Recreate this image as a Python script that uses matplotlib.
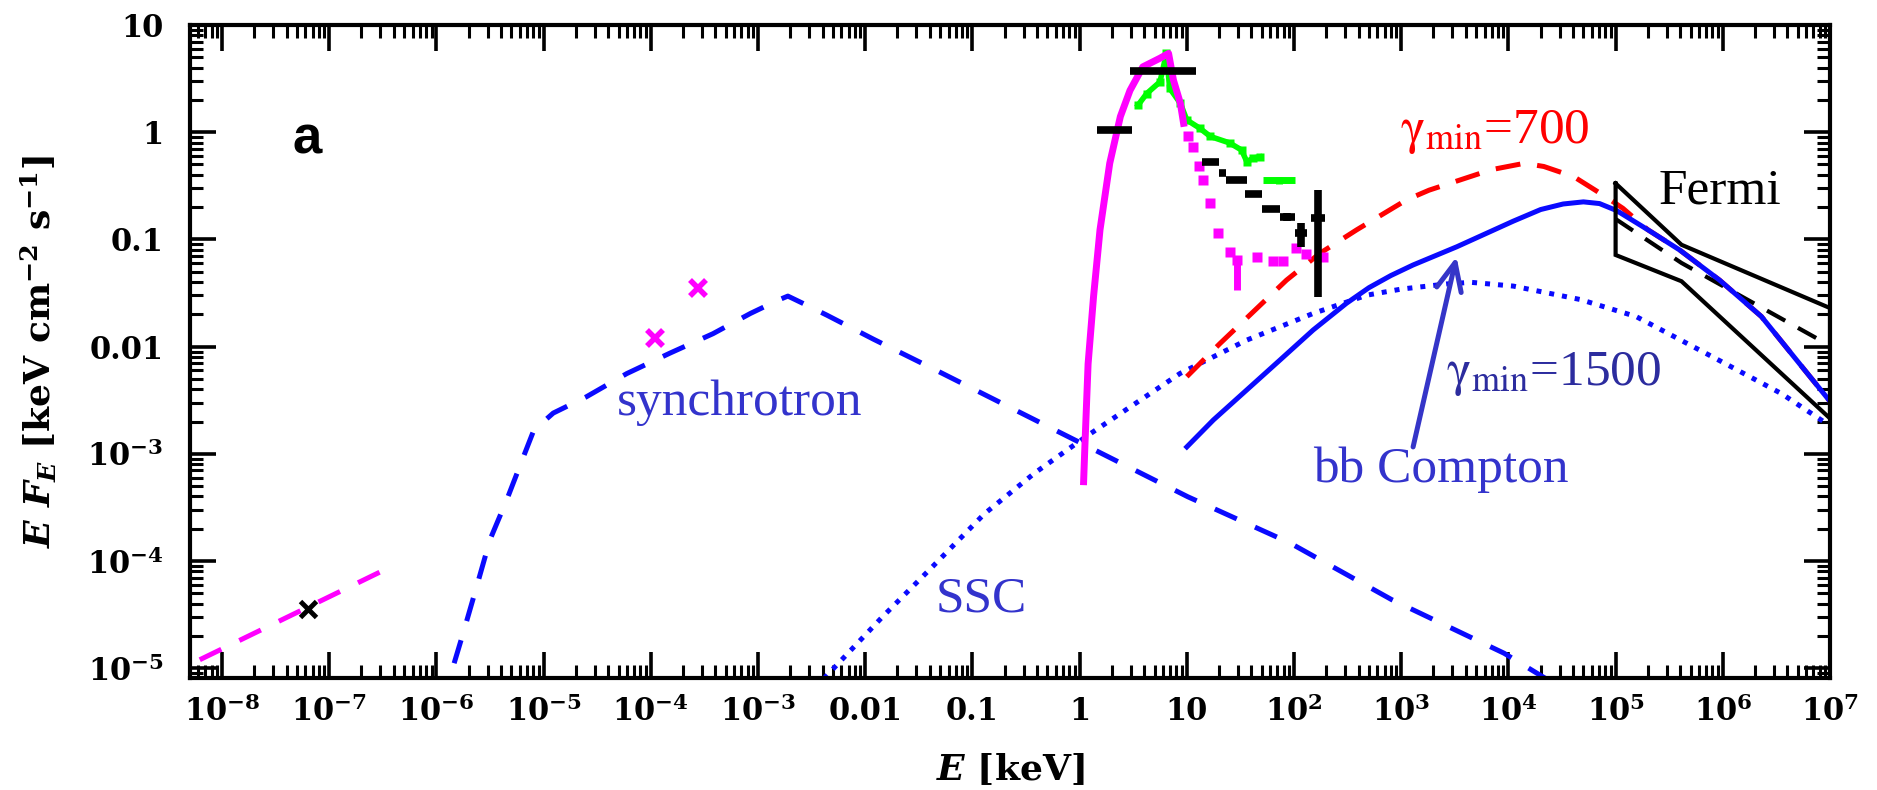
import numpy as np
import matplotlib
matplotlib.use("Agg")
import matplotlib.pyplot as plt
from matplotlib.ticker import LogLocator, NullFormatter
from matplotlib.font_manager import FontProperties

# ---------------- data (E in keV, EF_E in keV cm^-2 s^-1) ----------------
# synchrotron model (blue dashed)
sync_E = [1.12e-6, 1.34e-6, 1.78e-6, 2.37e-6, 3.16e-6, 4.53e-6, 6.46e-6, 8.1e-6,
          1.23e-5, 2.5e-5, 5.96e-5, 1.51e-4, 3.8e-4, 8.5e-4, 1.55e-3, 1.9e-3,
          2.63e-3, 4.37e-3, 1.2e-2, 4.27e-2, 1.03, 10.2, 91.0, 813.0, 9120.0,
          2.19e4, 4.0e4]
sync_F = [4.5e-6, 8.3e-6, 2.14e-5, 5.75e-5, 1.58e-4, 3.72e-4, 9.3e-4, 1.66e-3,
          2.4e-3, 3.4e-3, 5.6e-3, 8.7e-3, 1.32e-2, 2.04e-2, 2.72e-2, 2.96e-2,
          2.53e-2, 1.97e-2, 1.17e-2, 6.24e-3, 1.26e-3, 3.98e-4, 1.48e-4, 4.37e-5,
          1.38e-5, 8.1e-6, 5.0e-6]

# SSC model (blue dotted)
ssc_E = [3.55e-3, 4.27e-3, 1.45e-2, 4.27e-2, 0.129, 0.380, 1.15, 8.65, 36.2,
         151.0, 479.0, 1000.0, 2630.0, 4467.0, 1.11e4, 4.68e4, 1.55e5, 9.33e5,
         3.55e6, 9.33e6, 1.12e7]
ssc_F = [6.31e-6, 8.32e-6, 3.02e-5, 8.91e-5, 2.75e-4, 6.61e-4, 1.45e-3, 5.62e-3,
         1.15e-2, 2.04e-2, 3.02e-2, 3.44e-2, 3.84e-2, 3.98e-2, 3.67e-2, 2.75e-2,
         1.91e-2, 7.41e-3, 3.63e-3, 1.91e-3, 1.66e-3]

# bb Compton, gamma_min = 1500 (blue solid)
bb1500_E = [10.0, 17.7, 36.2, 74.0, 151.0, 309.0, 501.0, 800.0, 1288.0, 3311.0,
            1.11e4, 2.0e4, 3.24e4, 5.01e4, 7.08e4, 1.02e5, 2.0e5, 3.98e5, 9.33e5,
            2.29e6, 5.5e6, 1.0e7]
bb1500_F = [1.16e-3, 2.07e-3, 3.94e-3, 7.50e-3, 1.43e-2, 2.54e-2, 3.55e-2, 4.6e-2,
            5.77e-2, 8.55e-2, 0.148, 0.190, 0.214, 0.224, 0.216, 0.186, 0.123,
            7.94e-2, 4.17e-2, 1.91e-2, 6.46e-3, 3.09e-3]

# bb Compton, gamma_min = 700 (red dashed)
bb700_E = [10.0, 20.4, 85.1, 174.0, 385.0, 1122.0, 1820.0, 6918.0, 1.41e4, 2.14e4,
           4.07e4, 6.46e4, 8.91e4, 1.17e5, 2.0e5, 3.98e5, 9.33e5, 2.29e6, 5.5e6, 1.0e7]
bb700_F = [5.25e-3, 1.07e-2, 4.17e-2, 7.41e-2, 0.123, 0.234, 0.288, 0.447, 0.513,
           0.479, 0.385, 0.288, 0.234, 0.195, 0.123, 7.94e-2, 4.17e-2, 1.91e-2,
           6.46e-3, 3.09e-3]

# Fermi bow-tie
fermi_E = [1.0e5, 4.12e5, 1.0e7]
fermi_up = [0.333, 0.0891, 0.0229]
fermi_lo = [0.0716, 0.0407, 0.00214]
fermi_mid = [0.155, 0.0603, 0.0102]

# optical/UV/radio points
radio_line_E = [6.2e-9, 3.3e-7]
radio_line_F = [1.2e-5, 8.3e-5]
radio_pt_E = [6.4e-8]
radio_pt_F = [3.6e-5]
uv_pt_E = [1.1e-4, 2.75e-4]
uv_pt_F = [0.012, 0.035]

# magenta X-ray spectrum (dense part, then binned points)
mag_curve_E = [1.09, 1.12, 1.20, 1.35, 1.55, 1.91, 2.40, 2.95, 3.89, 5.62, 6.76,
               7.50, 8.71, 9.33]
mag_curve_F = [5.5e-4, 1.17e-3, 6.9e-3, 2.95e-2, 0.123, 0.513, 1.40, 2.45, 4.07,
               4.90, 5.43, 3.07, 1.86, 1.21]
mag_pt_E = [10.2, 11.5, 12.9, 14.3, 16.6, 19.5, 25.1, 29.2, 44.7, 63.1, 79.4,
            105.0, 129.0, 186.0]
mag_pt_F = [0.912, 0.733, 0.479, 0.359, 0.219, 0.115, 0.0767, 0.0646, 0.0692,
            0.0631, 0.0631, 0.0832, 0.0724, 0.0692]
mag_pt_Flo = [0.912, 0.733, 0.479, 0.359, 0.219, 0.115, 0.0767, 0.034, 0.0692,
              0.0631, 0.0631, 0.0832, 0.0724, 0.0692]

# green X-ray spectrum
grn_E = [3.51, 4.22, 5.62, 6.46, 6.92, 8.71, 10.0, 13.2, 16.6, 25.1, 32.4, 36.3,
         41.7, 47.9]
grn_F = [1.79, 2.29, 2.95, 5.43, 2.57, 1.86, 1.30, 1.09, 0.912, 0.794, 0.682,
         0.531, 0.575, 0.589]
grn_x_lo = [51.3]
grn_x_hi = [102.0]
grn_x_F = [0.355]
grn_x_Flo = [0.33]
grn_x_Fhi = [0.38]

# black binned points (energy bins, flux, flux errors)
blk_lo = [1.445, 2.95, 13.8, 20.0, 23.4, 34.7, 50.1, 74.1, 102.0, 145.0]
blk_hi = [3.05, 12.3, 20.0, 23.4, 36.3, 50.1, 74.1, 102.0, 132.0, 195.0]
blk_F = [1.047, 3.75, 0.531, 0.414, 0.355, 0.263, 0.192, 0.162, 0.115, 0.158]
blk_Flo = [1.047, 3.75, 0.531, 0.414, 0.355, 0.263, 0.192, 0.148, 0.085, 0.029]
blk_Fhi = [1.047, 3.75, 0.531, 0.414, 0.355, 0.263, 0.192, 0.178, 0.141, 0.288]

# axis ticks
xticks = [1e-8, 1e-7, 1e-6, 1e-5, 1e-4, 1e-3, 1e-2, 1e-1, 1, 10, 1e2, 1e3, 1e4, 1e5, 1e6, 1e7]
xticklabels = [r'$10^{-8}$', r'$10^{-7}$', r'$10^{-6}$', r'$10^{-5}$', r'$10^{-4}$',
               r'$10^{-3}$', '0.01', '0.1', '1', '10', r'$10^{2}$', r'$10^{3}$',
               r'$10^{4}$', r'$10^{5}$', r'$10^{6}$', r'$10^{7}$']
yticks = [1e-5, 1e-4, 1e-3, 1e-2, 1e-1, 1, 10]
yticklabels = [r'$10^{-5}$', r'$10^{-4}$', r'$10^{-3}$', '0.01', '0.1', '1', '10']

# annotation arrow (tail / head)
arrow_tail = (1291.0, 1.16e-3)
arrow_head = (3281.0, 0.069)

# ---------------- style ----------------
plt.rcParams['font.family'] = ['DejaVu Serif']
plt.rcParams['mathtext.fontset'] = 'custom'
plt.rcParams['mathtext.rm'] = 'DejaVu Serif:bold'
plt.rcParams['mathtext.bf'] = 'DejaVu Serif:bold'
plt.rcParams['mathtext.it'] = 'DejaVu Serif:italic:bold'
plt.rcParams['axes.linewidth'] = 3.0

BLUE = '#0a0aff'
TXTBLUE = '#3333cc'
TXTBLUE2 = '#2c2c9e'

fig = plt.figure(figsize=(18.77, 7.9), dpi=100)
ax = fig.add_axes([0.10123, 0.14177, 0.87373, 0.82658])
ax.set_xscale('log')
ax.set_yscale('log')
ax.set_xlim(10 ** -8.2985, 1e7)
ax.set_ylim(10 ** -5.091, 10)

# models
ax.plot(ssc_E, ssc_F, color=BLUE, lw=3.6, linestyle=(0, (1.0, 1.6)),
        dash_capstyle='butt', zorder=2)
ax.plot(sync_E, sync_F, color=BLUE, lw=3.6, linestyle=(0, (4.8, 4.0)),
        dash_capstyle='butt', zorder=2)
ax.plot(bb700_E, bb700_F, color='#ff0000', lw=3.6, linestyle=(0, (5.0, 3.4)),
        dash_capstyle='butt', zorder=2)
ax.plot(bb1500_E, bb1500_F, color=BLUE, lw=3.6, zorder=3)

# Fermi bow tie
fx = fermi_E + fermi_E[::-1] + [fermi_E[0]]
fy = fermi_up + fermi_lo[::-1] + [fermi_up[0]]
ax.plot(fx, fy, color='k', lw=3.0, zorder=4, solid_joinstyle='miter')
ax.plot(fermi_E, fermi_mid, color='k', lw=3.0, linestyle=(0, (5, 3.5)), zorder=2.5)

# radio / optical / UV
ax.plot(radio_line_E, radio_line_F, color='#ff00ff', lw=3.6,
        linestyle=(0, (4.8, 4.0)), dash_capstyle='butt', zorder=2)
ax.plot(radio_pt_E, radio_pt_F, 'x', color='k', ms=11, mew=3.5, zorder=5)
ax.plot(uv_pt_E, uv_pt_F, 'x', color='#ff00ff', ms=12, mew=4, zorder=5)

# green spectrum
ax.plot(grn_E, grn_F, color='#00ff00', lw=4, marker='s', ms=6, mec='none', zorder=4)
gx = np.sqrt(np.array(grn_x_lo) * np.array(grn_x_hi))
ax.errorbar(gx, grn_x_F,
            xerr=[gx - np.array(grn_x_lo), np.array(grn_x_hi) - gx],
            yerr=[np.array(grn_x_F) - np.array(grn_x_Flo), np.array(grn_x_Fhi) - np.array(grn_x_F)],
            fmt='none', ecolor='#00ff00', elinewidth=5, capsize=0, zorder=4)

# magenta spectrum
ax.plot(mag_curve_E, mag_curve_F, color='#ff00ff', lw=5, zorder=5)
mF = np.array(mag_pt_F)
ax.errorbar(mag_pt_E, mag_pt_F, yerr=[mF - np.array(mag_pt_Flo), mF * 0],
            fmt='s', color='#ff00ff', ms=6.5, mec='none', ecolor='#ff00ff',
            elinewidth=5, capsize=0, zorder=5)

# black binned points
blo = np.array(blk_lo)
bhi = np.array(blk_hi)
bF = np.array(blk_F)
bx = np.sqrt(blo * bhi)
ax.errorbar(bx, bF, xerr=[bx - blo, bhi - bx],
            yerr=[bF - np.array(blk_Flo), np.array(blk_Fhi) - bF],
            fmt='none', ecolor='k', elinewidth=5.5, capsize=0, zorder=6)

# ticks
ax.set_xticks(xticks, xticklabels, fontweight='bold')
ax.set_yticks(yticks, yticklabels, fontweight='bold')
ax.xaxis.set_minor_locator(LogLocator(base=10, subs=np.arange(2, 10), numticks=40))
ax.yaxis.set_minor_locator(LogLocator(base=10, subs=np.arange(2, 10), numticks=40))
ax.xaxis.set_minor_formatter(NullFormatter())
ax.yaxis.set_minor_formatter(NullFormatter())
ax.tick_params(which='both', direction='in', top=True, right=True)
ax.tick_params(which='major', length=19, width=2.6, labelsize=22)
ax.tick_params(which='minor', length=9.5, width=2.2)
ax.tick_params(axis='x', which='major', pad=13)
ax.tick_params(axis='y', which='major', pad=19)
for lbl in ax.get_xticklabels() + ax.get_yticklabels():
    lbl.set_fontweight('bold')

ax.set_xlabel(r'$E$ [keV]', fontsize=26, fontweight='bold')
ax.xaxis.set_label_coords(0.5, -0.112)
ax.set_ylabel(r'$E\ F_E$ [keV cm$^{-2}$ s$^{-1}$]', fontsize=26, fontweight='bold')
ax.yaxis.set_label_coords(-0.08, 0.5)

# annotations
def serif_fp(size):
    return FontProperties(family='Liberation Serif', weight='normal', size=size,
                          math_fontfamily='stix')

ax.text(0.0713, 0.824, 'a', transform=ax.transAxes, fontsize=38,
        family='Liberation Sans', fontweight='bold', ha='center', va='center')
ax.text(0.260, 0.403, 'synchrotron', transform=ax.transAxes,
        fontproperties=serif_fp(37), color=TXTBLUE, va='baseline')
ax.text(0.4546, 0.1015, 'SSC', transform=ax.transAxes,
        fontproperties=serif_fp(37), color=TXTBLUE, va='baseline')
ax.text(0.6848, 0.3006, 'bb Compton', transform=ax.transAxes,
        fontproperties=serif_fp(37), color=TXTBLUE, va='baseline')
ax.text(0.7656, 0.4487, r'$\mathrm{\gamma_{min}}$=1500', transform=ax.transAxes,
        fontproperties=serif_fp(37), color=TXTBLUE2, va='baseline')
ax.text(0.738, 0.8188, r'$\mathrm{\gamma_{min}}$=700', transform=ax.transAxes,
        fontproperties=serif_fp(37), color='#ff0000', va='baseline')
ax.text(0.8957, 0.7269, 'Fermi', transform=ax.transAxes,
        fontproperties=serif_fp(37), color='k', va='baseline')

ax.annotate('', xy=arrow_head, xytext=arrow_tail,
            arrowprops=dict(arrowstyle='->,head_length=1.0,head_width=0.45',
                            color='#3535c8', lw=3.6, mutation_scale=20,
                            shrinkA=0, shrinkB=0), zorder=7)

fig.savefig('out.png', dpi=100, facecolor='white')
